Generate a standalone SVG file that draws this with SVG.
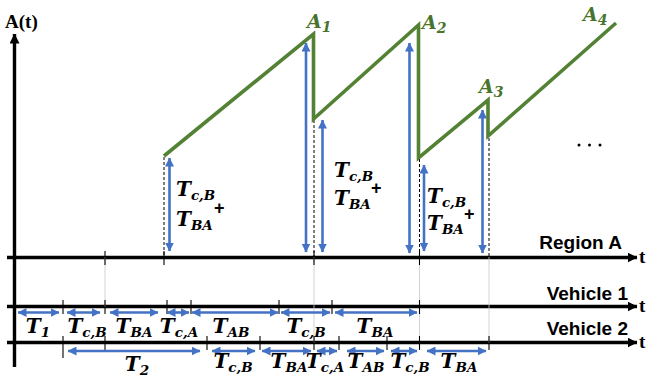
<svg xmlns="http://www.w3.org/2000/svg" width="647" height="381" viewBox="0 0 647 381">
<style>
.ax{stroke:#000;stroke-width:3.4;fill:none}
.tk{stroke:#000;stroke-width:1.1}
.gl{stroke:#c8c8c8;stroke-width:0.8}
.dl{stroke:#000;stroke-width:1;stroke-dasharray:3,2}
.ba{stroke:#4472C4;stroke-width:2.6;fill:none;marker-start:url(#bh);marker-end:url(#bh)}
.t{font-family:"DejaVu Serif","Liberation Serif",serif;font-weight:bold;font-style:italic;font-size:20px;fill:#000}
.s{font-size:13.5px}
.a{font-family:"DejaVu Serif","Liberation Serif",serif;font-weight:bold;font-style:italic;font-size:19px;fill:#48742c}
.as{font-size:14px}
.lb{font-family:"Liberation Sans",Arial,sans-serif;font-weight:bold;font-size:19px;fill:#000}
.tt{font-family:"Liberation Serif","Times New Roman",serif;font-weight:bold;font-size:19px;fill:#000}
.pl{font-family:"Liberation Sans",Arial,sans-serif;font-weight:bold;font-size:18px;fill:#000}
</style>
<defs>
<marker id="bh" viewBox="0 0 9 9" refX="8.5" refY="4.5" markerWidth="9" markerHeight="9" markerUnits="userSpaceOnUse" orient="auto-start-reverse"><path d="M0,0 L9,4.5 L0,9 z" fill="#4472C4"/></marker>
<marker id="kh" viewBox="0 0 10 10" refX="9.5" refY="5" markerWidth="10" markerHeight="10" markerUnits="userSpaceOnUse" orient="auto"><path d="M0,0 L10,5 L0,10 z" fill="#000"/></marker>
</defs>

<g id="axes">
<line class="ax" x1="14.5" y1="367" x2="14.5" y2="34" marker-end="url(#kh)"/>
<text class="tt" x="5" y="28">A(t)</text>
<line class="ax" x1="7" y1="257.5" x2="637" y2="257.5" marker-end="url(#kh)"/>
<line class="ax" x1="7" y1="306.5" x2="637" y2="306.5" marker-end="url(#kh)"/>
<line class="ax" x1="7" y1="342.5" x2="637" y2="342.5" marker-end="url(#kh)"/>
<text class="tt" x="639" y="263">t</text>
<text class="tt" x="639" y="312">t</text>
<text class="tt" x="639" y="348">t</text>
<text class="lb" x="622" y="249" text-anchor="end">Region A</text>
<text class="lb" x="628" y="300" text-anchor="end">Vehicle 1</text>
<text class="lb" x="628" y="335" text-anchor="end">Vehicle 2</text>
</g>

<g id="guides">
<line class="gl" x1="105" y1="257" x2="105" y2="307"/>
<line class="gl" x1="314" y1="257" x2="314" y2="343"/>
<line class="gl" x1="419.5" y1="257" x2="419.5" y2="343"/>
<line class="gl" x1="489" y1="257" x2="489" y2="343"/>
<line class="dl" x1="164" y1="157" x2="164" y2="257"/>
<line class="dl" x1="314" y1="120" x2="314" y2="257"/>
<line class="dl" x1="419.5" y1="159" x2="419.5" y2="257"/>
<line class="dl" x1="489" y1="138" x2="489" y2="257"/>
<g class="tk">
<line x1="105" y1="251" x2="105" y2="265"/>
<line x1="164" y1="251" x2="164" y2="265"/>
<line x1="314" y1="251" x2="314" y2="265"/>
<line x1="419.5" y1="251" x2="419.5" y2="265"/>
<line x1="63" y1="300" x2="63" y2="314"/>
<line x1="105" y1="300" x2="105" y2="314"/>
<line x1="167" y1="300" x2="167" y2="314"/>
<line x1="191" y1="300" x2="191" y2="314"/>
<line x1="279" y1="300" x2="279" y2="314"/>
<line x1="332" y1="300" x2="332" y2="314"/>
<line x1="419.5" y1="300" x2="419.5" y2="314"/>
<line x1="63" y1="336" x2="63" y2="358"/>
<line x1="105" y1="336" x2="105" y2="350"/>
<line x1="207" y1="336" x2="207" y2="350"/>
<line x1="260" y1="336" x2="260" y2="350"/>
<line x1="314" y1="336" x2="314" y2="350"/>
<line x1="339" y1="336" x2="339" y2="350"/>
<line x1="387" y1="336" x2="387" y2="350"/>
<line x1="419.5" y1="336" x2="419.5" y2="350"/>
<line x1="489" y1="336" x2="489" y2="350"/>
</g>
</g>

<g id="curve">
<polyline points="164,156 313.5,34 313.5,119 418.5,25 418.5,158 488,100 488,136 616,23" fill="none" stroke="#548235" stroke-width="3.6" stroke-linejoin="miter" stroke-miterlimit="10"/>
<text class="a" x="307" y="28">A<tspan class="as" dy="4">1</tspan></text>
<text class="a" x="422" y="29">A<tspan class="as" dy="4">2</tspan></text>
<text class="a" x="479" y="93">A<tspan class="as" dy="4">3</tspan></text>
<text class="a" x="583" y="21">A<tspan class="as" dy="4">4</tspan></text>
<g fill="#000"><circle cx="579" cy="145" r="1.5"/><circle cx="589.5" cy="145" r="1.5"/><circle cx="600" cy="145" r="1.5"/></g>
</g>

<g id="connectors">
<line class="ba" x1="169.5" y1="158" x2="169.5" y2="251"/>
<line class="ba" x1="306" y1="43" x2="306" y2="252"/>
<line class="ba" x1="322.5" y1="120" x2="322.5" y2="252"/>
<line class="ba" x1="409.5" y1="43" x2="409.5" y2="253"/>
<line class="ba" x1="424" y1="165" x2="424" y2="251"/>
<line class="ba" x1="482.5" y1="110" x2="482.5" y2="253"/>

<line class="ba" x1="18" y1="312.5" x2="59" y2="312.5"/>
<line class="ba" x1="67" y1="312.5" x2="100" y2="312.5"/>
<line class="ba" x1="110" y1="312.5" x2="158" y2="312.5"/>
<line class="ba" x1="167" y1="312.5" x2="189" y2="312.5"/>
<line class="ba" x1="192" y1="312.5" x2="278" y2="312.5"/>
<line class="ba" x1="281" y1="312.5" x2="330" y2="312.5"/>
<line class="ba" x1="335" y1="312.5" x2="417" y2="312.5"/>

<line class="ba" x1="68" y1="351" x2="200" y2="351"/>
<line class="ba" x1="212" y1="351" x2="255" y2="351"/>
<line class="ba" x1="262" y1="351" x2="311" y2="351"/>
<line class="ba" x1="317" y1="351" x2="337" y2="351"/>
<line class="ba" x1="347" y1="351" x2="384" y2="351"/>
<line class="ba" x1="391" y1="351" x2="417" y2="351"/>
<line class="ba" x1="427" y1="351" x2="486" y2="351"/>
</g>

<g id="region-labels">
<text class="t" x="176" y="196">T<tspan class="s" dy="4">c,B</tspan></text>
<text class="t" x="176" y="226">T<tspan class="s" dy="4">BA</tspan></text>
<text class="pl" x="214" y="214">+</text>
<text class="t" x="334" y="177">T<tspan class="s" dy="4">c,B</tspan></text>
<text class="t" x="334" y="205">T<tspan class="s" dy="4">BA</tspan></text>
<text class="pl" x="371" y="194">+</text>
<text class="t" x="427" y="203">T<tspan class="s" dy="4">c,B</tspan></text>
<text class="t" x="427" y="230">T<tspan class="s" dy="4">BA</tspan></text>
<text class="pl" x="464" y="220">+</text>
</g>

<g id="vehicle1-labels">
<text class="t" x="38" y="333" text-anchor="middle">T<tspan class="s" dy="4">1</tspan></text>
<text class="t" x="87" y="333" text-anchor="middle">T<tspan class="s" dy="4">c,B</tspan></text>
<text class="t" x="134" y="333" text-anchor="middle">T<tspan class="s" dy="4">BA</tspan></text>
<text class="t" x="179" y="333" text-anchor="middle">T<tspan class="s" dy="4">c,A</tspan></text>
<text class="t" x="231" y="333" text-anchor="middle">T<tspan class="s" dy="4">AB</tspan></text>
<text class="t" x="306" y="333" text-anchor="middle">T<tspan class="s" dy="4">c,B</tspan></text>
<text class="t" x="375" y="333" text-anchor="middle">T<tspan class="s" dy="4">BA</tspan></text>
</g>

<g id="vehicle2-labels">
<text class="t" x="137" y="371" text-anchor="middle">T<tspan class="s" dy="4">2</tspan></text>
<text class="t" x="233" y="368" text-anchor="middle">T<tspan class="s" dy="4">c,B</tspan></text>
<text class="t" x="289" y="368" text-anchor="middle">T<tspan class="s" dy="4">BA</tspan></text>
<text class="t" x="325" y="368" text-anchor="middle">T<tspan class="s" dy="4">c,A</tspan></text>
<text class="t" x="366" y="368" text-anchor="middle">T<tspan class="s" dy="4">AB</tspan></text>
<text class="t" x="410" y="368" text-anchor="middle">T<tspan class="s" dy="4">c,B</tspan></text>
<text class="t" x="459" y="368" text-anchor="middle">T<tspan class="s" dy="4">BA</tspan></text>
</g>
</svg>
